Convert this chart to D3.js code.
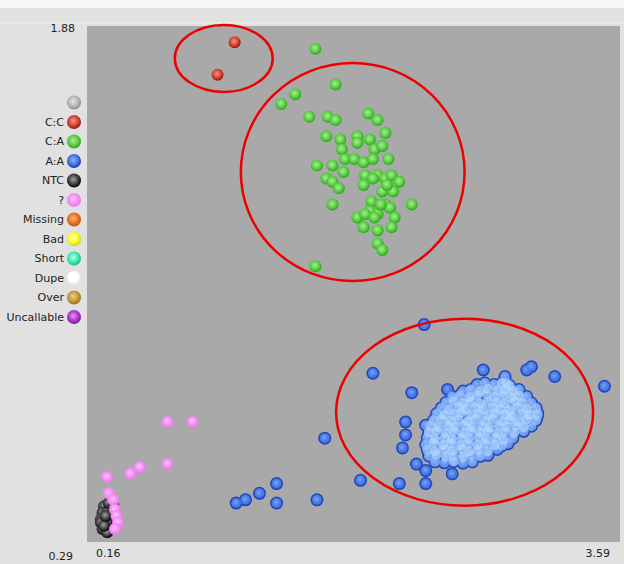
<!DOCTYPE html>
<html>
<head>
<meta charset="utf-8">
<script src="https://cdn.jsdelivr.net/npm/d3@7"></script>
<style>
  body { margin: 0; background: #fff; }
  svg { display: block; }
  text { font-family: "DejaVu Sans", sans-serif; font-size: 11px; fill: #222; }
</style>
</head>
<body>
<div id="chart"></div>
<script>
/* cluster plot with genotype calls */

const width = 624,
    height = 564,
    margin = ({ top: 26, right: 4, bottom: 22, left: 87 });

// axis end labels
const xTicks = [0.16, 3.59];
const yTicks = [0.29, 1.88];

// legend categories
const legendLabels = ["", "C:C", "C:A", "A:A", "NTC", "?", "Missing", "Bad", "Short", "Dupe", "Over", "Uncallable"];

// points per call, [x, y]
const ccPoints = [[1.11, 1.83], [1.00, 1.73]];

const caPoints = [
  [1.63,1.81],[1.76,1.70],[1.50,1.67],[1.41,1.64],[1.59,1.60],[1.71,1.60],[1.76,1.59],[1.97,1.61],[2.03,1.59],[2.08,1.55],
  [1.70,1.54],[1.79,1.53],[1.90,1.54],[1.90,1.52],[1.98,1.53],[2.01,1.50],[2.06,1.51],[1.80,1.50],[1.82,1.47],[1.88,1.47],
  [1.94,1.46],[2.00,1.47],[2.10,1.47],[1.64,1.45],[1.74,1.45],[1.81,1.43],[1.95,1.42],[2.03,1.42],[2.08,1.41],[2.12,1.42],
  [2.17,1.40],[1.70,1.41],[1.74,1.40],[1.78,1.38],[1.94,1.39],[2.06,1.37],[2.13,1.37],[1.99,1.34],[2.08,1.33],[2.11,1.32],
  [1.98,1.31],[2.03,1.30],[2.25,1.33],[1.74,1.33],[1.90,1.29],[1.95,1.30],[2.01,1.29],[2.14,1.29],[1.94,1.26],[2.03,1.25],
  [2.12,1.26],[2.03,1.21],[2.06,1.19],[1.63,1.14],[2.09,1.39],[2.00,1.41],[2.05,1.33]
];

const aaPoints = [
  // stragglers
  [2.33,0.96],[2.00,0.81],[2.25,0.75],[2.71,0.82],[2.99,0.82],[3.02,0.83],[3.17,0.80],[3.49,0.77],[2.48,0.76],[2.85,0.80],
  [2.86,0.78],[2.21,0.66],[2.21,0.62],[2.19,0.58],[2.34,0.65],[1.69,0.61],[2.28,0.53],[2.34,0.51],[2.34,0.47],[2.51,0.50],
  [1.92,0.48],[2.17,0.47],[3.06,0.68],[1.38,0.47],[1.12,0.41],[1.18,0.42],[1.27,0.44],[1.38,0.41],[1.64,0.42],
  // main cloud
  [2.67,0.775],[2.72,0.78],[2.78,0.775],[2.83,0.78],[2.88,0.772],
  [2.58,0.755],[2.63,0.76],[2.69,0.755],[2.74,0.762],[2.80,0.757],[2.85,0.76],[2.90,0.755],[2.94,0.76],
  [2.51,0.738],[2.56,0.742],[2.62,0.736],[2.67,0.741],[2.73,0.745],[2.78,0.738],[2.84,0.742],[2.89,0.736],[2.94,0.741],[2.99,0.738],
  [2.47,0.72],[2.52,0.724],[2.58,0.718],[2.63,0.722],[2.69,0.717],[2.74,0.723],[2.80,0.72],[2.85,0.716],[2.91,0.724],[2.96,0.72],[3.02,0.718],
  [2.44,0.703],[2.49,0.698],[2.55,0.706],[2.60,0.70],[2.66,0.705],[2.71,0.699],[2.77,0.704],[2.82,0.70],[2.88,0.697],[2.93,0.705],[2.99,0.70],[3.05,0.703],
  [2.41,0.686],[2.46,0.681],[2.52,0.684],[2.57,0.688],[2.63,0.682],[2.68,0.686],[2.74,0.681],[2.79,0.687],[2.85,0.683],[2.90,0.679],[2.96,0.686],[3.01,0.682],[3.06,0.687],
  [2.39,0.665],[2.44,0.669],[2.50,0.663],[2.55,0.667],[2.61,0.662],[2.66,0.668],[2.72,0.664],[2.77,0.669],[2.83,0.663],[2.88,0.667],[2.94,0.662],[2.99,0.668],[3.05,0.665],
  [2.37,0.648],[2.42,0.644],[2.48,0.649],[2.53,0.645],[2.59,0.65],[2.64,0.644],[2.70,0.648],[2.75,0.643],[2.81,0.649],[2.86,0.645],[2.92,0.648],[2.97,0.644],[3.02,0.647],
  [2.36,0.628],[2.41,0.632],[2.47,0.627],[2.52,0.631],[2.58,0.626],[2.63,0.632],[2.69,0.628],[2.74,0.631],[2.80,0.626],[2.85,0.63],[2.91,0.627],[2.97,0.631],
  [2.35,0.612],[2.40,0.607],[2.46,0.611],[2.51,0.606],[2.57,0.612],[2.62,0.608],[2.68,0.613],[2.73,0.607],[2.79,0.611],[2.84,0.606],[2.90,0.61],
  [2.34,0.59],[2.39,0.595],[2.45,0.589],[2.50,0.594],[2.56,0.588],[2.61,0.593],[2.67,0.589],[2.72,0.594],[2.78,0.59],[2.83,0.587],[2.87,0.593],
  [2.35,0.574],[2.40,0.57],[2.46,0.575],[2.51,0.571],[2.57,0.576],[2.62,0.57],[2.68,0.574],[2.74,0.57],[2.80,0.575],
  [2.36,0.555],[2.41,0.559],[2.47,0.553],[2.52,0.557],[2.58,0.552],[2.63,0.558],[2.69,0.554],[2.74,0.557],
  [2.40,0.537],[2.46,0.534],[2.52,0.538],[2.58,0.533],[2.64,0.537]
];

const ntcPoints = [
  [0.27,0.40],[0.26,0.38],[0.25,0.36],[0.25,0.35],[0.26,0.33],[0.29,0.32],[0.29,0.38],
  [0.31,0.37],[0.29,0.35],[0.30,0.41],[0.33,0.40],[0.27,0.34],[0.28,0.37]
];

const unknownPoints = [
  [0.68,0.66],[0.84,0.66],[0.68,0.53],[0.50,0.52],[0.44,0.50],[0.29,0.49],
  [0.30,0.44],[0.33,0.42],[0.34,0.39],[0.35,0.37],[0.36,0.35],[0.34,0.33]
];

// hand drawn rings around the calls: centre and half widths in data units
const callRings = [
  { cx: 1.04, cy: 1.78, rx: 0.315, ry: 0.103 },
  { cx: 1.87, cy: 1.43, rx: 0.72, ry: 0.336 },
  { cx: 2.59, cy: 0.69, rx: 0.827, ry: 0.288 }
];

// gradient stops per legend entry: centre, middle, rim
const palette = {
  "": ["#e4e4e4", "#bcbcbc", "#8c8c8c"],
  "C:C": ["#ff9080", "#d84a3a", "#8a1a14"],
  "C:A": ["#a6ec96", "#62d24a", "#2aa41c"],
  "A:A": ["#88b6ff", "#4a7ae8", "#1a3aa8"],
  "NTC": ["#a0a0a0", "#4a4a4a", "#000000"],
  "?": ["#ffc4ff", "#f590f5", "#e878e8"],
  "Missing": ["#ffb478", "#f07828", "#c05010"],
  "Bad": ["#ffffb8", "#ffff30", "#d4d400"],
  "Short": ["#b8ffe4", "#40f0b0", "#20b880"],
  "Dupe": ["#ffffff", "#ffffff", "#e6e6e6"],
  "Over": ["#ecd08a", "#c8a040", "#98701c"],
  "Uncallable": ["#e496f4", "#b040d0", "#7a1a9a"]
};

const svg = d3.select("#chart")
    .append("svg")
    .attr("width", width)
    .attr("height", height);

const defs = svg.append("defs");
function addGradient(id, c) {
  const g = defs.append("radialGradient")
      .attr("id", id)
      .attr("cx", "45%").attr("cy", "42%").attr("r", "58%");
  g.append("stop").attr("offset", "0%").attr("stop-color", c[0]);
  g.append("stop").attr("offset", "55%").attr("stop-color", c[1]);
  g.append("stop").attr("offset", "100%").attr("stop-color", c[2]);
}
legendLabels.forEach((lab, i) => addGradient("grad" + i, palette[lab]));
addGradient("blueCore", ["#78a6f2", "#4f80e8", "#3f6fdc"]);
const fillFor = lab => `url(#grad${legendLabels.indexOf(lab)})`;

// window background
svg.append("rect").attr("width", width).attr("height", height).attr("fill", "#e1e1e1");
svg.append("rect").attr("width", width).attr("height", 8).attr("fill", "#f6f6f6");
svg.append("rect").attr("x", 0).attr("y", 22).attr("width", width).attr("height", 1.5).attr("fill", "#ececec");

let x = d3.scaleLinear()
    .domain(xTicks)
    .range([margin.left, width - margin.right]);

let y = d3.scaleLinear()
    .domain(yTicks)
    .range([height - margin.bottom, margin.top]);

// plot area
svg.append("rect")
    .attr("x", x(xTicks[0]))
    .attr("y", y(yTicks[1]))
    .attr("width", x(xTicks[1]) - x(xTicks[0]))
    .attr("height", y(yTicks[0]) - y(yTicks[1]))
    .attr("fill", "#a9a9a9");

// axis end labels
svg.append("text")
    .attr("text-anchor", "end")
    .attr("x", margin.left - 12)
    .attr("y", y(yTicks[1]) + 6)
    .text(yTicks[1].toFixed(2));

svg.append("text")
    .attr("text-anchor", "end")
    .attr("x", margin.left - 14)
    .attr("y", height - 4)
    .text(yTicks[0].toFixed(2));

svg.append("text")
    .attr("x", x(xTicks[0]) + 9)
    .attr("y", height - 7)
    .text(xTicks[0].toFixed(2));

svg.append("text")
    .attr("text-anchor", "end")
    .attr("x", x(xTicks[1]) - 10)
    .attr("y", height - 7)
    .text(xTicks[1].toFixed(2));

// legend
let ly = d3.scalePoint()
    .domain(legendLabels)
    .range([102.5, 317]);

const legend = svg.append("g");
legend.selectAll("circle")
    .data(legendLabels)
    .join("circle")
    .attr("cx", 74)
    .attr("cy", d => ly(d))
    .attr("r", 7)
    .attr("fill", d => fillFor(d));

legend.selectAll("text")
    .data(legendLabels.filter(d => d !== ""))
    .join("text")
    .attr("text-anchor", "end")
    .attr("x", 64)
    .attr("y", d => ly(d))
    .attr("dy", "0.36em")
    .text(d => d);

// points
function drawPoints(data, fill, r) {
  return svg.append("g")
    .selectAll("circle")
    .data(data)
    .join("circle")
    .attr("cx", d => x(d[0]))
    .attr("cy", d => y(d[1]))
    .attr("r", r)
    .attr("fill", fill);
}

drawPoints(ntcPoints, fillFor("NTC"), 6);
drawPoints(unknownPoints, fillFor("?"), 6);
drawPoints(caPoints, fillFor("C:A"), 6);

// blue calls: dark rims first, then the cores
drawPoints(aaPoints, "#1f46bc", 6.5);
drawPoints(aaPoints, "url(#blueCore)", 5);

// where the calls pile up the cloud glows light blue: count close neighbours on screen
const neighbours = aaPoints.map(a => aaPoints.filter(b => b !== a &&
    Math.hypot(x(a[0]) - x(b[0]), y(a[1]) - y(b[1])) < 11).length);
drawPoints(aaPoints, "#b8dcff", 5)
    .attr("opacity", (d, i) => Math.min(0.65, Math.max(0, (neighbours[i] - 1) * 0.12)));

drawPoints(ccPoints, fillFor("C:C"), 6);

// red rings
svg.append("g")
    .selectAll("ellipse")
    .data(callRings)
    .join("ellipse")
    .attr("cx", d => x(d.cx))
    .attr("cy", d => y(d.cy))
    .attr("rx", d => x(d.cx + d.rx) - x(d.cx))
    .attr("ry", d => y(d.cy - d.ry) - y(d.cy))
    .attr("fill", "none")
    .attr("stroke", "#ee0000")
    .attr("stroke-width", 2.5);
</script>
</body>
</html>
